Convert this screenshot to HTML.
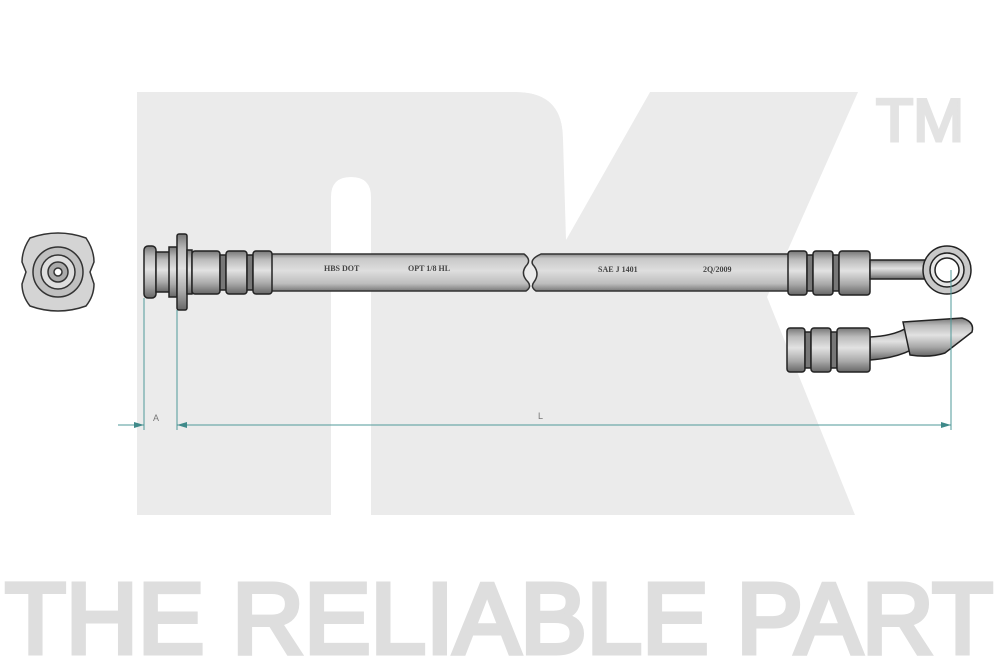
<!DOCTYPE html>
<html><head><meta charset="utf-8"><style>
html,body{margin:0;padding:0;background:#fff;}
svg{display:block;}
</style></head><body>
<svg width="1000" height="667" viewBox="0 0 1000 667" xmlns="http://www.w3.org/2000/svg">
<defs>
<linearGradient id="tube" x1="0" y1="0" x2="0" y2="1">
<stop offset="0" stop-color="#8a8a8a"/><stop offset="0.12" stop-color="#c8c8c8"/><stop offset="0.45" stop-color="#dedede"/><stop offset="0.8" stop-color="#bdbdbd"/><stop offset="1" stop-color="#7a7a7a"/>
</linearGradient>
<linearGradient id="fit" x1="0" y1="0" x2="0" y2="1">
<stop offset="0" stop-color="#777"/><stop offset="0.2" stop-color="#bbb"/><stop offset="0.45" stop-color="#e2e2e2"/><stop offset="0.75" stop-color="#aaa"/><stop offset="1" stop-color="#666"/>
</linearGradient>
</defs>
<!-- NK logo -->
<g fill="#ebebeb">
<path d="M137,92 H516 Q563,92 563,139 V515 H371 V197 Q371,177 351,177 Q331,177 331,197 V515 H137 Z"/>
<path d="M566,240 L650,92 H858 L767,297 L855,515 H566 Z"/>
<rect x="563" y="92" width="4" height="423"/>
</g>
<path d="M563,139 L566,240 L650,92 L563,92 Z" fill="#fff"/>
<path d="M516,92 Q563,92 563,139 L563,92 Z" fill="#fff"/>
<text x="876" y="141" font-family="Liberation Sans, sans-serif" font-size="60" fill="#e3e3e3" stroke="#e3e3e3" stroke-width="3" textLength="88" lengthAdjust="spacingAndGlyphs">TM</text>
<text x="5" y="653" font-family="Liberation Sans, sans-serif" font-size="100" fill="#dedede" stroke="#dedede" stroke-width="5" textLength="988" lengthAdjust="spacingAndGlyphs">THE RELIABLE PART</text>

<!-- end view icon -->
<g stroke="#333" stroke-width="1.5">
<path d="M30,238 Q58,228 86,238 Q94,250 94,262 L90,272 L94,284 Q94,296 86,306 Q58,316 30,306 Q22,296 22,284 L26,272 L22,262 Q22,250 30,238 Z" fill="#d4d4d4"/>
<circle cx="58" cy="272" r="25" fill="#c0c0c0"/>
<circle cx="58" cy="272" r="17" fill="#dedede"/>
<circle cx="58" cy="272" r="10" fill="#aaa"/>
<circle cx="58" cy="272" r="4" fill="#fff"/>
</g>

<!-- tube -->
<path d="M268,254 H524 Q532,260 526,266 Q520,274 528,282 Q532,287 526,291 H268 Z" fill="url(#tube)" stroke="#333" stroke-width="1.5"/>
<path d="M541,254 H792 V291 H536 Q530,287 534,282 Q540,274 534,266 Q528,260 541,254 Z" fill="url(#tube)" stroke="#333" stroke-width="1.5"/>
<g font-family="Liberation Serif, serif" font-weight="bold" font-size="8" fill="#444">
<text x="324" y="271">HBS DOT</text><text x="408" y="271">OPT 1/8 HL</text>
<text x="598" y="272">SAE J 1401</text><text x="703" y="272">2Q/2009</text>
</g>

<!-- left fitting -->
<g stroke="#222" stroke-width="1.5">
<rect x="144" y="246" width="12" height="52" rx="4" fill="url(#fit)"/>
<rect x="156" y="252" width="14" height="40" fill="url(#fit)"/>
<rect x="169" y="247" width="8" height="50" fill="url(#fit)"/>
<rect x="177" y="234" width="10" height="76" rx="2" fill="url(#fit)"/>
<rect x="187" y="250" width="5" height="44" fill="url(#fit)"/>
<rect x="192" y="251" width="28" height="43" rx="3" fill="url(#fit)"/>
<rect x="220" y="255" width="6" height="35" fill="#777"/>
<rect x="226" y="251" width="21" height="43" rx="3" fill="url(#fit)"/>
<rect x="247" y="255" width="6" height="35" fill="#777"/>
<rect x="253" y="251" width="19" height="43" rx="3" fill="url(#fit)"/>
</g>

<!-- right fitting -->
<g stroke="#222" stroke-width="1.5">
<rect x="788" y="251" width="19" height="44" rx="3" fill="url(#fit)"/>
<rect x="807" y="255" width="6" height="36" fill="#777"/>
<rect x="813" y="251" width="20" height="44" rx="3" fill="url(#fit)"/>
<rect x="833" y="255" width="6" height="36" fill="#777"/>
<rect x="839" y="251" width="31" height="44" rx="3" fill="url(#fit)"/>
<rect x="870" y="260" width="56" height="19" fill="url(#fit)"/>
<circle cx="947" cy="270" r="24" fill="#c8c8c8"/>
<circle cx="947" cy="270" r="17" fill="#e4e4e4"/>
<circle cx="947" cy="270" r="12" fill="#fff"/>
</g>

<!-- lower fitting -->
<g stroke="#222" stroke-width="1.5">
<path d="M870,337 Q895,336 910,326 L918,346 Q900,358 870,360 Z" fill="url(#fit)"/>
<path d="M903,322 L962,318 Q975,322 972,332 L945,353 Q930,358 910,355 Z" fill="url(#fit)"/>
<rect x="787" y="328" width="18" height="44" rx="3" fill="url(#fit)"/>
<rect x="805" y="332" width="6" height="36" fill="#777"/>
<rect x="811" y="328" width="20" height="44" rx="3" fill="url(#fit)"/>
<rect x="831" y="332" width="6" height="36" fill="#777"/>
<rect x="837" y="328" width="33" height="44" rx="3" fill="url(#fit)"/>
</g>

<!-- dimensions -->
<g stroke="#4f9898" stroke-width="1" fill="none">
<line x1="144" y1="298" x2="144" y2="430"/>
<line x1="177" y1="310" x2="177" y2="430"/>
<line x1="951" y1="270" x2="951" y2="430"/>
<line x1="118" y1="425" x2="144" y2="425"/>
<line x1="177" y1="425" x2="951" y2="425"/>
</g>
<g fill="#3f8a8a">
<path d="M144,425 L134,422 L134,428 Z"/>
<path d="M177,425 L187,422 L187,428 Z"/>
<path d="M951,425 L941,422 L941,428 Z"/>
</g>
<text x="153" y="421" font-family="Liberation Sans, sans-serif" font-size="9" fill="#777">A</text>
<text x="538" y="419" font-family="Liberation Sans, sans-serif" font-size="9" fill="#777">L</text>
</svg>
</body></html>
